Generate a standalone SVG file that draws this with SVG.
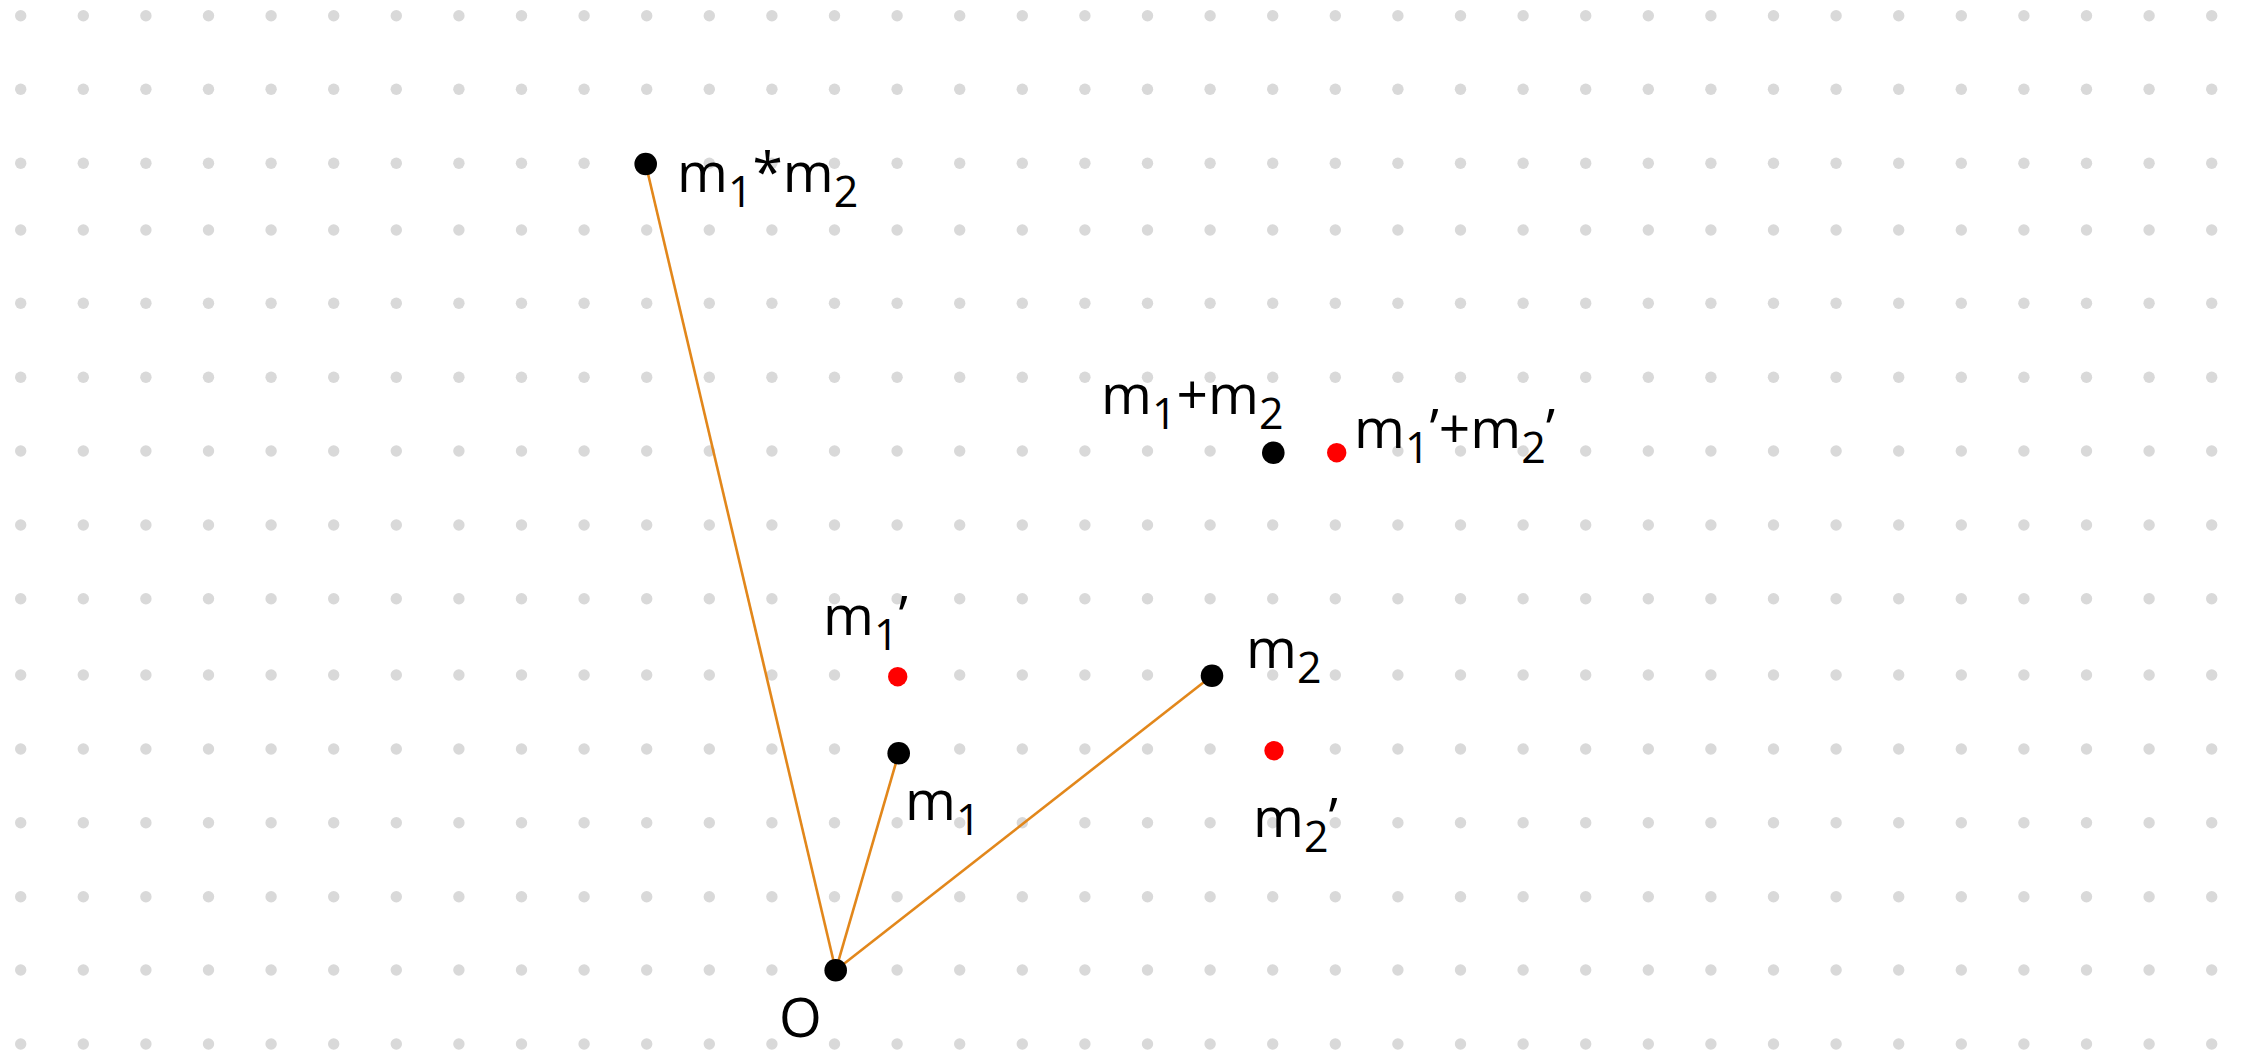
<svg xmlns="http://www.w3.org/2000/svg" xmlns:xlink="http://www.w3.org/1999/xlink" width="2242" height="1053" viewBox="0 0 2242 1053">
<style>
.pt{fill:#000}
.rp{fill:#FF0000}
.lbl{font-family:"Open Sans","Liberation Sans",Arial,sans-serif;font-size:55px;fill:#000}
.sub{font-size:43px}
.edge{stroke:#E2871B;stroke-width:2.6;fill:none}
</style>
<defs>
<g id="row" fill="#D9D9D9">
<circle cx="20.7" cy="0" r="5.7"/><circle cx="83.3" cy="0" r="5.7"/><circle cx="145.9" cy="0" r="5.7"/><circle cx="208.5" cy="0" r="5.7"/><circle cx="271.1" cy="0" r="5.7"/><circle cx="333.7" cy="0" r="5.7"/><circle cx="396.3" cy="0" r="5.7"/><circle cx="458.9" cy="0" r="5.7"/><circle cx="521.5" cy="0" r="5.7"/><circle cx="584.1" cy="0" r="5.7"/><circle cx="646.7" cy="0" r="5.7"/><circle cx="709.3" cy="0" r="5.7"/><circle cx="771.9" cy="0" r="5.7"/><circle cx="834.5" cy="0" r="5.7"/><circle cx="897.1" cy="0" r="5.7"/><circle cx="959.7" cy="0" r="5.7"/><circle cx="1022.3" cy="0" r="5.7"/><circle cx="1084.9" cy="0" r="5.7"/><circle cx="1147.5" cy="0" r="5.7"/><circle cx="1210.1" cy="0" r="5.7"/><circle cx="1272.7" cy="0" r="5.7"/><circle cx="1335.3" cy="0" r="5.7"/><circle cx="1397.9" cy="0" r="5.7"/><circle cx="1460.5" cy="0" r="5.7"/><circle cx="1523.1" cy="0" r="5.7"/><circle cx="1585.7" cy="0" r="5.7"/><circle cx="1648.3" cy="0" r="5.7"/><circle cx="1710.9" cy="0" r="5.7"/><circle cx="1773.5" cy="0" r="5.7"/><circle cx="1836.1" cy="0" r="5.7"/><circle cx="1898.7" cy="0" r="5.7"/><circle cx="1961.3" cy="0" r="5.7"/><circle cx="2023.9" cy="0" r="5.7"/><circle cx="2086.5" cy="0" r="5.7"/><circle cx="2149.1" cy="0" r="5.7"/><circle cx="2211.7" cy="0" r="5.7"/>
</g>
</defs>
<rect width="2242" height="1053" fill="#FFFFFF"/>
<g id="grid">
<use xlink:href="#row" href="#row" y="15.7"/>
<use xlink:href="#row" href="#row" y="89.3"/>
<use xlink:href="#row" href="#row" y="163.3"/>
<use xlink:href="#row" href="#row" y="230"/>
<use xlink:href="#row" href="#row" y="303.3"/>
<use xlink:href="#row" href="#row" y="377.3"/>
<use xlink:href="#row" href="#row" y="451"/>
<use xlink:href="#row" href="#row" y="525"/>
<use xlink:href="#row" href="#row" y="598.7"/>
<use xlink:href="#row" href="#row" y="675"/>
<use xlink:href="#row" href="#row" y="749"/>
<use xlink:href="#row" href="#row" y="822.7"/>
<use xlink:href="#row" href="#row" y="896.7"/>
<use xlink:href="#row" href="#row" y="970"/>
<use xlink:href="#row" href="#row" y="1044"/>
</g>
<g id="connectors">
<line class="edge" x1="835.7" y1="970.3" x2="645.7" y2="164"/>
<line class="edge" x1="835.7" y1="970.3" x2="898.7" y2="753.3"/>
<line class="edge" x1="835.7" y1="970.3" x2="1212" y2="675.7"/>
</g>
<g id="node-O">
<circle class="pt" cx="835.7" cy="970.3" r="11.3"/>
<text class="lbl" x="779" y="1036.7">O</text>
</g>
<g id="node-m1m2prod">
<circle class="pt" cx="645.7" cy="164" r="11.3"/>
<text class="lbl" x="677" y="192">m<tspan class="sub" dy="15">1</tspan><tspan dy="-15">*m</tspan><tspan class="sub" dy="15">2</tspan></text>
</g>
<g id="node-m1">
<circle class="pt" cx="898.7" cy="753.3" r="11.3"/>
<text class="lbl" x="905" y="820">m<tspan class="sub" dy="15">1</tspan></text>
</g>
<g id="node-m2">
<circle class="pt" cx="1212" cy="675.7" r="11.3"/>
<text class="lbl" x="1246" y="668">m<tspan class="sub" dy="15">2</tspan></text>
</g>
<g id="node-m1p">
<circle class="rp" cx="897.7" cy="676.7" r="9.7"/>
<text class="lbl" x="823" y="635">m<tspan class="sub" dy="15">1</tspan><tspan dy="-15">’</tspan></text>
</g>
<g id="node-m2p">
<circle class="rp" cx="1274" cy="750.7" r="9.7"/>
<text class="lbl" x="1253" y="837">m<tspan class="sub" dy="15">2</tspan><tspan dy="-15">’</tspan></text>
</g>
<g id="node-sum">
<circle class="pt" cx="1273.3" cy="452.7" r="11.3"/>
<text class="lbl" x="1101" y="414">m<tspan class="sub" dy="15">1</tspan><tspan dy="-15">+m</tspan><tspan class="sub" dy="15">2</tspan></text>
</g>
<g id="node-sump">
<circle class="rp" cx="1336.7" cy="452.7" r="9.7"/>
<text class="lbl" x="1354" y="448">m<tspan class="sub" dy="15">1</tspan><tspan dy="-15">’+m</tspan><tspan class="sub" dy="15">2</tspan><tspan dy="-15">’</tspan></text>
</g>
</svg>
